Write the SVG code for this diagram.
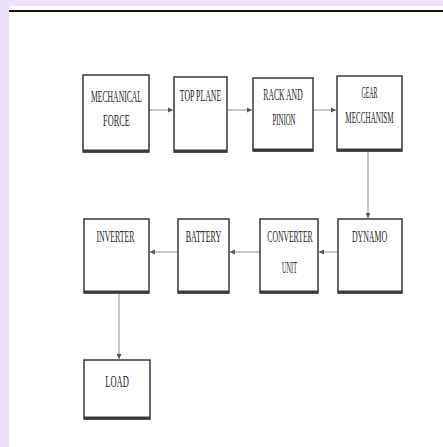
<svg xmlns="http://www.w3.org/2000/svg" width="443" height="447" viewBox="0 0 443 447">
<style>
.box rect{fill:#fff;stroke:#3a3a3a;stroke-width:1.5}
.box line{stroke:#3a3a3a;stroke-width:3}
text{font-family:"Liberation Serif","Times New Roman",serif;font-size:17px;fill:#262626;text-anchor:middle}
.conn line{stroke:#a0a0a0;stroke-width:1.2;marker-end:url(#ah)}
</style>
<defs>
<marker id="ah" markerWidth="6" markerHeight="6" refX="5" refY="3" orient="auto" markerUnits="userSpaceOnUse">
<path d="M0,0.5 L5,3 L0,5.5 z" fill="#555"/>
</marker>
</defs>
<rect x="0" y="0" width="443" height="447" fill="#ede0f9"/>
<rect x="9" y="6" width="434" height="441" fill="#fff"/>
<line x1="9" y1="11" x2="443" y2="11" stroke="#111" stroke-width="2"/>

<g class="conn">
<line x1="149" y1="110" x2="173" y2="110"/>
<line x1="227" y1="110" x2="252" y2="110"/>
<line x1="313" y1="110" x2="336" y2="110"/>
<line x1="368" y1="152" x2="368" y2="218"/>
<line x1="338" y1="252" x2="319" y2="252"/>
<line x1="260" y1="252" x2="230" y2="252"/>
<line x1="178" y1="252" x2="150" y2="252"/>
<line x1="119" y1="294" x2="119" y2="359"/>
</g>

<g id="mechanical-force" class="box">
<rect x="83" y="75" width="66" height="77"/>
<line x1="83" y1="151" x2="149" y2="151"/>
<text transform="translate(116.5,102) scale(0.45,1)">MECHANICAL</text>
<text transform="translate(116.5,126) scale(0.49,1)">FORCE</text>
</g>
<g id="top-plane" class="box">
<rect x="174" y="77" width="53" height="75"/>
<line x1="174" y1="151" x2="227" y2="151"/>
<text transform="translate(200.5,101) scale(0.46,1)">TOP PLANE</text>
</g>
<g id="rack-and-pinion" class="box">
<rect x="253" y="78" width="60" height="73"/>
<line x1="253" y1="150" x2="313" y2="150"/>
<text transform="translate(283,100) scale(0.45,1)">RACK AND</text>
<text transform="translate(284,125) scale(0.4,1)">PINION</text>
</g>
<g id="gear-mechanism" class="box">
<rect x="337" y="76" width="65" height="75"/>
<line x1="337" y1="150" x2="402" y2="150"/>
<text transform="translate(369.5,98) scale(0.35,1)">GEAR</text>
<text transform="translate(369.5,123) scale(0.42,1)">MECCHANISM</text>
</g>
<g id="inverter" class="box">
<rect x="84" y="219" width="65" height="74"/>
<line x1="84" y1="292" x2="149" y2="292"/>
<text transform="translate(115.5,242) scale(0.46,1)">INVERTER</text>
</g>
<g id="battery" class="box">
<rect x="178" y="219" width="51" height="74"/>
<line x1="178" y1="292" x2="229" y2="292"/>
<text transform="translate(203.5,242) scale(0.47,1)">BATTERY</text>
</g>
<g id="converter-unit" class="box">
<rect x="260" y="219" width="58" height="74"/>
<line x1="260" y1="292" x2="318" y2="292"/>
<text transform="translate(290,242) scale(0.45,1)">CONVERTER</text>
<text transform="translate(289.5,273) scale(0.37,1)">UNIT</text>
</g>
<g id="dynamo" class="box">
<rect x="338" y="219" width="64" height="74"/>
<line x1="338" y1="292" x2="402" y2="292"/>
<text transform="translate(369.5,242) scale(0.46,1)">DYNAMO</text>
</g>
<g id="load" class="box">
<rect x="84" y="360" width="66" height="59"/>
<line x1="84" y1="418" x2="150" y2="418"/>
<text transform="translate(117,387) scale(0.5,1)">LOAD</text>
</g>
</svg>
